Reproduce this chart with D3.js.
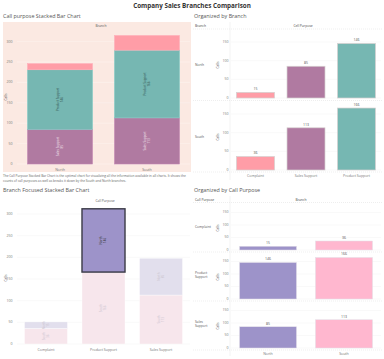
<!DOCTYPE html>
<html><head><meta charset="utf-8">
<script src="https://cdn.jsdelivr.net/npm/d3@7"></script>
<style>
html,body{margin:0;padding:0;background:#fff;}
svg{display:block;font-family:"Open Sans","Lato",sans-serif;}
</style></head>
<body>
<svg id="chart" width="384" height="359"></svg>
<script>
// ---------- data ----------
const branches = ["North", "South"];
const purposes = ["Complaint", "Sales Support", "Product Support"];
const northCalls = [15, 85, 146];   // Complaint, Sales Support, Product Support
const southCalls = [36, 113, 166];
const stackOrder = ["Sales Support", "Product Support", "Complaint"];
const branchChartOrder = ["Complaint", "Product Support", "Sales Support"];
const rowPurposeOrder = ["Complaint", "Product Support", "Sales Support"];
const ticks300 = [0, 50, 100, 150, 200, 250, 300];
const ticks150 = [0, 50, 100, 150];

const val = (b, p) => (b === "North" ? northCalls : southCalls)[purposes.indexOf(p)];

const purposeColor = d3.scaleOrdinal().domain(purposes).range(["#ff9da7", "#b07aa1", "#76b7b2"]);
const branchColor = d3.scaleOrdinal().domain(branches).range(["#9d93c9", "#ffb7cf"]);

const svg = d3.select("#chart");
const tickFont = 3.5, tickCol = "#777";

function txt(g, x, y, s, opt = {}) {
  return g.append("text").attr("x", x).attr("y", y).text(s)
    .attr("font-size", opt.size || tickFont)
    .attr("fill", opt.fill || tickCol)
    .attr("text-anchor", opt.anchor || "start")
    .attr("font-weight", opt.weight || "normal")
    .attr("dominant-baseline", "middle");
}
function yAxis(g, y, ticks, xEnd, x0, x1, gridCol) {
  ticks.forEach(t => {
    g.append("line").attr("x1", x0).attr("x2", x1).attr("y1", y(t)).attr("y2", y(t))
      .attr("stroke", gridCol).attr("stroke-width", 0.5);
    txt(g, xEnd, y(t), t, { anchor: "end" });
  });
}
function rotLabel(g, x, y, s, size, col) {
  g.append("text").attr("transform", `translate(${x},${y}) rotate(-90)`)
    .attr("text-anchor", "middle").attr("dominant-baseline", "middle")
    .attr("font-size", size || tickFont).attr("fill", col || "#666").text(s);
}

// ---------- title ----------
txt(svg, 192, 6, "Company Sales Branches Comparison", { size: 6.3, fill: "#333", anchor: "middle", weight: "bold" });

// ---------- Panel 1: Call purpose stacked ----------
{
  const g = svg.append("g");
  txt(g, 3, 17, "Call purpose Stacked Bar Chart", { size: 5.4, fill: "#555" });
  g.append("rect").attr("x", 3).attr("y", 22).attr("width", 188).attr("height", 150).attr("fill", "#fbe9e2");
  txt(g, 101, 26, "Branch", { size: 3.3, fill: "#555", anchor: "middle" });
  const y = d3.scaleLinear().domain([0, 300]).range([164, 41.6]);
  const x = d3.scaleBand().domain(branches).range([17, 190]).paddingInner(0.253).paddingOuter(0.121);
  yAxis(g, y, ticks300, 12.5, 17, 190, "#fdf4f0");
  rotLabel(g, 6, 97, "Calls", 3.3, "#555");
  const stackData = branches.map(b => { const o = { branch: b }; purposes.forEach(p => o[p] = val(b, p)); return o; });
  const series = d3.stack().keys(stackOrder)(stackData);
  series.forEach(s => {
    s.forEach(d => {
      const b = d.data.branch;
      g.append("rect").attr("x", x(b)).attr("width", x.bandwidth())
        .attr("y", y(d[1])).attr("height", y(d[0]) - y(d[1]))
        .attr("fill", purposeColor(s.key)).attr("stroke", d3.color(purposeColor(s.key)).brighter(0.3)).attr("stroke-width", 0.6);
      if (s.key !== "Complaint") {
        const cx = x(b) + x.bandwidth() / 2, cy = (y(d[0]) + y(d[1])) / 2;
        const col = s.key === "Sales Support" ? "#f3e6ee" : "#2f4f4c";
        rotLabel(g, cx - 1.8, cy, s.key, 3, col);
        rotLabel(g, cx + 1.8, cy, d[1] - d[0], 3, col);
      }
    });
  });
  branches.forEach(b => txt(g, x(b) + x.bandwidth() / 2, 170, b, { anchor: "middle" }));
  txt(g, 3, 176.5, "The Call Purpose Stacked Bar Chart is the optimal chart for visualizing all the information available in all charts. It shows the", { size: 3.2, fill: "#666" });
  txt(g, 3, 181, "counts of call purposes as well as breaks it down by the South and North branches.", { size: 3.2, fill: "#666" });
}

// ---------- Panel 3: Branch focused stacked ----------
{
  const g = svg.append("g");
  txt(g, 3, 190.5, "Branch Focused Stacked Bar Chart", { size: 5.4, fill: "#555" });
  txt(g, 105, 201, "Call Purpose", { size: 3.3, fill: "#555", anchor: "middle" });
  const y = d3.scaleLinear().domain([0, 300]).range([344, 214]);
  const x = d3.scaleBand().domain(branchChartOrder).range([17, 190]).paddingInner(0.252).paddingOuter(0.13);
  yAxis(g, y, ticks300, 12.5, 17, 190, "#f2f2f2");
  rotLabel(g, 6, 278, "Calls", 3.3, "#555");
  const stackData = branchChartOrder.map(p => ({ purpose: p, South: val("South", p), North: val("North", p) }));
  const series = d3.stack().keys(["South", "North"])(stackData);
  const faded = { South: "#f7e6ec", North: "#e2dfed" };
  series.forEach(s => {
    s.forEach(d => {
      const p = d.data.purpose;
      const hi = (p === "Product Support" && s.key === "North");
      g.append("rect").attr("x", x(p)).attr("width", x.bandwidth())
        .attr("y", y(d[1])).attr("height", y(d[0]) - y(d[1]))
        .attr("fill", hi ? branchColor("North") : faded[s.key])
        .attr("stroke", hi ? "#3a3a46" : "#fff").attr("stroke-width", hi ? 1.4 : 0.4);
      const cx = x(p) + x.bandwidth() / 2, cy = (y(d[0]) + y(d[1])) / 2;
      const col = hi ? "#333" : "#c9c2cc";
      rotLabel(g, cx - 1.8, cy, s.key, 3, col);
      rotLabel(g, cx + 1.8, cy, d[1] - d[0], 3, col);
    });
  });
  branchChartOrder.forEach(p => txt(g, x(p) + x.bandwidth() / 2, 350, p, { anchor: "middle" }));
}

// ---------- Panel 2: Organized by branch ----------
{
  const g = svg.append("g");
  txt(g, 194, 17, "Organized by Branch", { size: 5.4, fill: "#555" });
  txt(g, 195, 26, "Branch", { size: 3.3, fill: "#444" });
  txt(g, 303, 26, "Cell Purpose", { size: 3.3, fill: "#444", anchor: "middle" });
  g.append("line").attr("x1", 193).attr("x2", 383).attr("y1", 29).attr("y2", 29).attr("stroke", "#ddd").attr("stroke-width", 0.5).attr("stroke-dasharray", "1,1");
  g.append("line").attr("x1", 230).attr("x2", 230).attr("y1", 22).attr("y2", 180).attr("stroke", "#e4e4e4").attr("stroke-width", 0.5);
  const x = d3.scaleBand().domain(purposes).range([231, 381]).paddingInner(0.248).paddingOuter(0.109);
  const rows = [{ b: "North", base: 98 }, { b: "South", base: 170 }];
  rows.forEach((r, i) => {
    const y = d3.scaleLinear().domain([0, 150]).range([r.base, r.base - 56]);
    yAxis(g, y, ticks150, 228.5, 231, 381, "#f2f2f2");
    rotLabel(g, 218.5, r.base - 33, "Calls", 3.3, "#555");
    txt(g, 195, r.base - 33, r.b, { size: 3.3, fill: "#555" });
    if (i === 0) g.append("line").attr("x1", 193).attr("x2", 383).attr("y1", r.base + 2.5).attr("y2", r.base + 2.5).attr("stroke", "#ddd").attr("stroke-width", 0.5).attr("stroke-dasharray", "1,1");
    purposes.forEach(p => {
      const v = val(r.b, p);
      g.append("rect").attr("x", x(p)).attr("width", x.bandwidth()).attr("y", y(v)).attr("height", y(0) - y(v))
        .attr("fill", purposeColor(p)).attr("stroke", "#d6d0d0").attr("stroke-width", 0.7);
      txt(g, x(p) + x.bandwidth() / 2, y(v) - 3, v, { anchor: "middle", fill: "#555" });
    });
  });
  g.append("line").attr("x1", 193).attr("x2", 383).attr("y1", 172).attr("y2", 172).attr("stroke", "#ddd").attr("stroke-width", 0.5).attr("stroke-dasharray", "1,1");
  purposes.forEach(p => txt(g, x(p) + x.bandwidth() / 2, 176, p, { anchor: "middle" }));
}

// ---------- Panel 4: Organized by call purpose ----------
{
  const g = svg.append("g");
  txt(g, 194, 190.5, "Organized by Call Purpose", { size: 5.4, fill: "#555" });
  txt(g, 195, 200, "Call Purpose", { size: 3.3, fill: "#444" });
  txt(g, 301, 200, "Branch", { size: 3.3, fill: "#444", anchor: "middle" });
  g.append("line").attr("x1", 193).attr("x2", 383).attr("y1", 202.5).attr("y2", 202.5).attr("stroke", "#ddd").attr("stroke-width", 0.5).attr("stroke-dasharray", "1,1");
  g.append("line").attr("x1", 230).attr("x2", 230).attr("y1", 196).attr("y2", 356).attr("stroke", "#e4e4e4").attr("stroke-width", 0.5);
  const x = d3.scaleBand().domain(branches).range([231, 381]).paddingInner(0.25).paddingOuter(0.112);
  const bases = [250, 299, 348];
  rowPurposeOrder.forEach((p, i) => {
    const base = bases[i];
    const y = d3.scaleLinear().domain([0, 150]).range([base, base - 37.5]);
    yAxis(g, y, ticks150, 228.5, 231, 381, "#f2f2f2");
    rotLabel(g, 218.5, base - 22, "Calls", 3.3, "#555");
    const words = p.split(" ");
    if (words.length === 1) txt(g, 195, base - 23, p, { size: 3.3, fill: "#555" });
    else { txt(g, 195, base - 26, words[0], { size: 3.3, fill: "#555" }); txt(g, 195, base - 21.5, words[1], { size: 3.3, fill: "#555" }); }
    g.append("line").attr("x1", 193).attr("x2", 383).attr("y1", base + 2).attr("y2", base + 2).attr("stroke", "#ddd").attr("stroke-width", 0.5).attr("stroke-dasharray", "1,1");
    branches.forEach(b => {
      const v = val(b, p);
      g.append("rect").attr("x", x(b)).attr("width", x.bandwidth()).attr("y", y(v)).attr("height", y(0) - y(v))
        .attr("fill", branchColor(b)).attr("stroke", "#e4e0e8").attr("stroke-width", 0.5);
      txt(g, x(b) + x.bandwidth() / 2, y(v) - 3, v, { anchor: "middle", fill: "#555" });
    });
  });
  branches.forEach(b => txt(g, x(b) + x.bandwidth() / 2, 354, b, { anchor: "middle" }));
}
</script>
</body></html>
